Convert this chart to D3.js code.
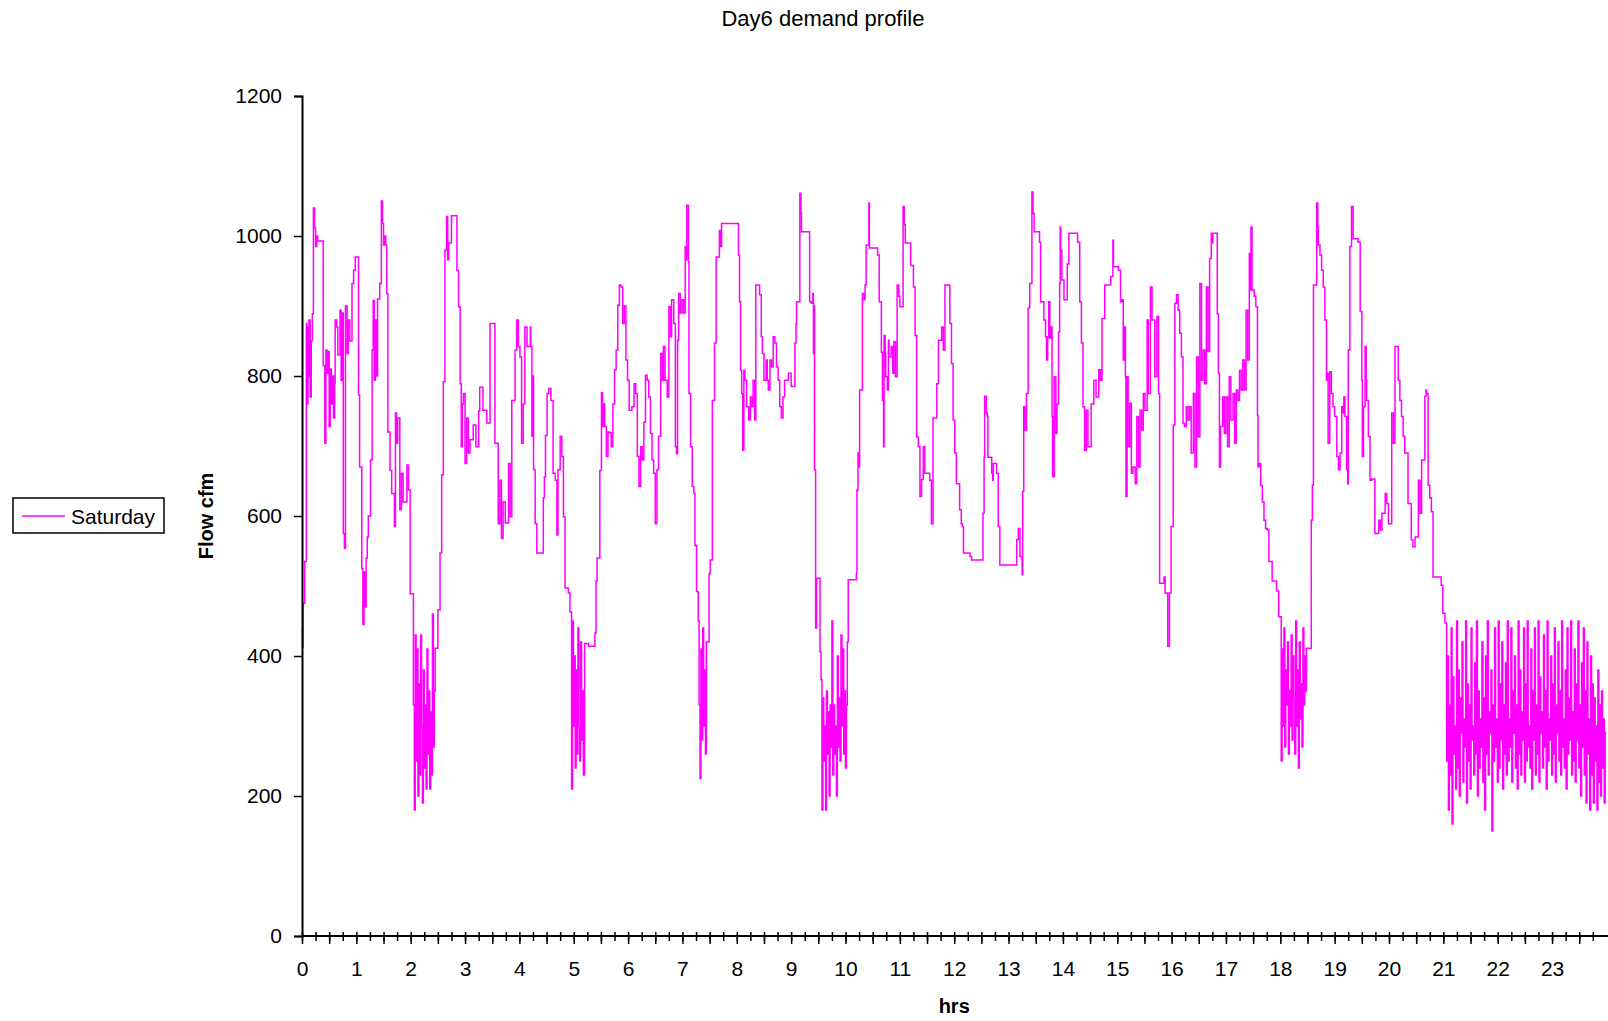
<!DOCTYPE html>
<html>
<head>
<meta charset="utf-8">
<title>Day6 demand profile</title>
<script src="https://cdn.jsdelivr.net/npm/d3@7"></script>
<style>
  body { margin: 0; background: #fff; }
  svg text { font-family: "Liberation Sans", Arial, sans-serif; fill: #000; }
</style>
</head>
<body>
<div id="chart"></div>
<script>
const chartTitle = "Day6 demand profile";
const seriesName = "Saturday";
const yTitle = "Flow cfm";
const xTitle = "hrs";
const flowTicks = [0, 200, 400, 600, 800, 1000, 1200];
const hourLabels = [0, 1, 2, 3, 4, 5, 6, 7, 8, 9, 10, 11, 12, 13, 14, 15, 16, 17, 18, 19, 20, 21, 22, 23];
const dayEnd = 24;

// [hour, flow] step changes
const early = [[0.00,440],[0.01,413],[0.02,475],[0.05,535],[0.08,875],[0.09,840],[0.10,760],[0.11,870],[0.12,800],[0.13,880],[0.15,770],[0.17,850],[0.19,889],[0.21,1040],[0.23,1011],[0.25,985],[0.27,1000],[0.29,993],[0.39,815],[0.42,704],[0.44,837],[0.46,804],[0.48,835],[0.50,728],[0.52,810],[0.54,760],[0.56,800],[0.58,740],[0.60,790],[0.61,880],[0.64,870],[0.66,830],[0.70,894],[0.72,794],[0.74,890],[0.76,575],[0.78,554],[0.80,900],[0.83,832],[0.85,880],[0.88,850],[0.92,932],[0.95,951],[0.98,970],[1.04,773],[1.06,670],[1.10,525],[1.12,445],[1.14,520],[1.16,470],[1.18,540],[1.20,570],[1.22,600],[1.26,680],[1.29,837],[1.31,908],[1.33,794],[1.35,880],[1.37,800],[1.39,910],[1.43,932],[1.46,1050],[1.48,1018],[1.50,987],[1.52,1000],[1.54,987],[1.56,918],[1.58,720],[1.62,665],[1.65,632],[1.70,585],[1.72,747],[1.74,704],[1.76,740],[1.80,609],[1.83,661],[1.86,620],[1.93,673],[1.96,637],[1.99,489]];

const morning = [[2.45,411],[2.50,466],[2.54,547],[2.57,659],[2.60,792],[2.63,980],[2.66,1028],[2.68,966],[2.70,990],[2.75,1029],[2.85,951],[2.88,899],[2.91,789],[2.93,699],[2.95,760],[2.97,775],[3.00,675],[3.03,740],[3.06,690],[3.09,709],[3.15,730],[3.20,699],[3.25,750],[3.27,784],[3.33,751],[3.40,733],[3.46,875],[3.55,704],[3.61,589],[3.64,651],[3.67,568],[3.70,620],[3.74,590],[3.80,675],[3.83,599],[3.86,765],[3.92,837],[3.95,880],[3.98,842],[4.01,827],[4.04,704],[4.07,760],[4.10,870],[4.14,842],[4.20,870],[4.21,842],[4.23,714],[4.25,800],[4.26,666],[4.29,589],[4.32,547],[4.44,626],[4.46,656],[4.48,715],[4.51,775],[4.54,782],[4.58,765],[4.62,661],[4.66,651],[4.69,573],[4.71,666],[4.75,714],[4.78,685],[4.81,599],[4.84,497],[4.90,490],[4.93,463]];

const midMorning = [[5.20,418],[5.27,414],[5.39,433],[5.41,507],[5.43,540],[5.48,665],[5.51,776],[5.53,728],[5.55,760],[5.57,728],[5.60,685],[5.63,720],[5.66,719],[5.69,699],[5.72,760],[5.75,809],[5.78,837],[5.81,901],[5.84,930],[5.87,927],[5.90,875],[5.93,900],[5.96,823],[5.99,794],[6.02,751],[6.07,756],[6.11,789],[6.14,775],[6.17,685],[6.20,642],[6.23,699],[6.26,680],[6.29,734],[6.32,801],[6.35,794],[6.38,770],[6.41,718],[6.44,680],[6.47,661],[6.50,589],[6.53,666],[6.56,714],[6.60,832],[6.63,794],[6.65,842],[6.68,794],[6.72,770],[6.75,899],[6.78,856],[6.80,909],[6.84,875],[6.87,699],[6.89,689],[6.91,851],[6.93,918],[6.96,890],[6.99,909],[7.02,890],[7.05,985],[7.07,966],[7.08,1044],[7.11,963],[7.12,775],[7.15,699],[7.18,642],[7.21,632],[7.23,558],[7.26,492]];

const lateMorning = [[7.46,420],[7.49,518],[7.51,537],[7.55,765],[7.59,847],[7.62,970],[7.68,1008],[7.70,985],[7.72,1018],[8.03,973],[8.05,906],[8.07,808],[8.09,775],[8.11,694],[8.13,808],[8.15,794],[8.18,756],[8.22,737],[8.25,770],[8.28,756],[8.30,794],[8.33,737],[8.35,930],[8.42,916],[8.45,856],[8.47,832],[8.50,794],[8.54,823],[8.56,794],[8.58,780],[8.61,823],[8.64,813],[8.67,856],[8.70,847],[8.73,813],[8.76,794],[8.79,756],[8.82,740],[8.85,770],[8.88,794],[8.92,794],[8.95,804],[9.00,785],[9.07,847],[9.09,875],[9.10,906],[9.16,1061],[9.18,1032],[9.19,1006],[9.34,906],[9.37,904],[9.40,918],[9.41,832],[9.42,900],[9.43,666],[9.45,440],[9.47,511],[9.53,406]];

const midday = [[10.05,509],[10.20,518],[10.21,637],[10.23,690],[10.25,670],[10.26,780],[10.31,918],[10.34,909],[10.36,930],[10.38,987],[10.43,1047],[10.44,983],[10.59,973],[10.62,906],[10.66,834],[10.68,765],[10.70,699],[10.71,858],[10.73,832],[10.74,799],[10.77,780],[10.79,851],[10.80,827],[10.84,842],[10.87,804],[10.89,849],[10.92,799],[10.95,930],[10.98,914],[11.00,899],[11.06,1042],[11.08,1016],[11.10,990],[11.20,958],[11.25,927],[11.28,858],[11.31,713],[11.34,699],[11.37,628],[11.40,652],[11.43,699],[11.46,661],[11.55,651],[11.58,589],[11.61,740],[11.68,789],[11.71,851],[11.77,870],[11.80,837],[11.83,930],[11.92,875],[11.95,818],[11.98,737],[12.01,690],[12.04,646],[12.10,609],[12.13,589],[12.15,585],[12.17,547],[12.29,542],[12.32,537],[12.53,604],[12.55,684],[12.56,771],[12.59,747],[12.61,742],[12.62,684],[12.69,661],[12.71,651],[12.72,675],[12.78,661],[12.81,585],[12.84,530]];

const afternoon = [[13.15,566],[13.18,582],[13.21,542],[13.25,516],[13.26,635],[13.28,756],[13.30,723],[13.33,775],[13.36,897],[13.39,932],[13.43,1063],[13.45,1032],[13.47,1006],[13.57,991],[13.59,906],[13.65,880],[13.68,856],[13.70,823],[13.72,856],[13.74,906],[13.76,854],[13.78,870],[13.80,742],[13.81,656],[13.84,799],[13.87,718],[13.89,760],[13.92,863],[13.94,932],[13.95,1013],[13.96,980],[13.98,937],[14.02,909],[14.08,960],[14.11,1004],[14.27,991],[14.31,906],[14.34,847],[14.37,756],[14.40,694],[14.43,751],[14.46,699],[14.52,760],[14.57,794],[14.61,770],[14.66,809],[14.69,794],[14.72,882],[14.77,930],[14.88,942],[14.92,994],[14.93,956],[15.02,951],[15.06,906],[15.09,909],[15.11,823],[15.13,870],[15.15,799],[15.16,628],[15.18,799],[15.20,699],[15.23,761],[15.26,661],[15.29,670],[15.33,646],[15.36,742],[15.39,670],[15.42,751],[15.45,723],[15.48,775],[15.51,751],[15.55,880],[15.57,775],[15.61,927],[15.64,880],[15.67,880],[15.69,799],[15.73,885],[15.76,775],[15.78,504],[15.86,513],[15.88,490],[15.93,414],[15.96,490],[15.99,585],[16.03,730],[16.06,904],[16.09,916],[16.12,894],[16.15,861],[16.18,827],[16.21,732],[16.24,728],[16.27,756],[16.30,737],[16.33,756],[16.36,690],[16.40,775],[16.43,670],[16.46,827],[16.49,713],[16.52,932],[16.55,794],[16.58,837],[16.61,789],[16.64,927],[16.67,835],[16.70,968],[16.73,1004],[16.74,990],[16.76,1004],[16.84,889],[16.86,804],[16.88,670],[16.90,728],[16.94,770],[16.97,718],[17.00,770],[17.03,699],[17.06,799],[17.09,737],[17.13,775],[17.16,704],[17.19,780],[17.22,765],[17.25,808],[17.28,780],[17.31,823],[17.34,780],[17.37,894],[17.40,823],[17.43,975],[17.45,923],[17.46,1013],[17.48,923],[17.52,914],[17.55,899],[17.58,744],[17.59,670],[17.61,675],[17.64,644],[17.67,620],[17.70,594],[17.73,582],[17.76,580],[17.79,535],[17.85,507],[17.93,493],[17.97,456]];

const evening = [[18.48,411],[18.57,594],[18.59,644],[18.61,930],[18.67,1047],[18.69,1013],[18.70,987],[18.73,973],[18.76,951],[18.79,927],[18.82,880],[18.85,794],[18.87,804],[18.88,704],[18.91,806],[18.94,775],[18.97,756],[19.00,742],[19.04,685],[19.07,666],[19.10,690],[19.13,756],[19.15,747],[19.17,770],[19.19,742],[19.22,666],[19.24,646],[19.25,837],[19.28,985],[19.31,1042],[19.34,996],[19.43,991],[19.47,892],[19.50,794],[19.51,685],[19.53,756],[19.56,842],[19.58,794],[19.59,765],[19.62,714],[19.65,651],[19.68,653],[19.74,575],[19.81,594],[19.84,580],[19.87,604],[19.93,632],[19.96,618],[19.99,589],[20.05,747],[20.08,704],[20.11,842],[20.17,794],[20.20,765],[20.23,742],[20.26,714],[20.29,690],[20.35,618],[20.41,566],[20.44,556],[20.48,570],[20.54,651],[20.57,604],[20.60,680],[20.66,771],[20.68,780],[20.69,775],[20.72,644],[20.75,626],[20.78,606],[20.81,513],[20.96,501],[20.99,461],[21.03,447]];

// fast-cycling stretches, one flow value per minute from the start hour
const burstStarts = [2.05, 4.96, 7.29, 9.55, 18.0, 21.06];
const burst2h = [330,180,430,250,410,200,360,230,430,300,190,380,240,330,210,410,260,350,210,320,230,460,270,350];
const burst5h = [210,450,300,400,240,380,260,440,300,250,420,280,350,230];
const burst7h = [450,330,225,410,280,440,300,380,260,420];
const burst10h = [366,180,340,250,300,180,350,260,320,200,330,270,450,230,330,260,300,200,400,270,340,250,430,300,410,260,350,240,330,420];
const burst18h = [456,250,410,300,440,270,380,330,420,260,350,300,430,280,400,340,260,450,300,380,240,420,310,360,270,440,330,400,350];
const night = [
  250,400,180,330,230,440,160,370,260,300,210,450,240,380,200,340,290,420,220,310,
  270,450,190,360,250,330,210,440,280,300,230,390,260,450,200,350,240,310,270,420,
  220,340,180,400,260,450,230,320,290,380,150,330,250,440,270,310,220,450,240,360,
  280,420,210,330,260,390,230,450,250,310,270,440,220,350,290,400,240,330,210,450,
  260,380,230,320,280,440,220,360,250,450,270,300,240,410,210,350,280,440,230,330,
  260,450,220,370,290,320,240,430,270,350,210,450,250,310,280,400,230,360,260,440,
  220,330,290,420,250,350,230,450,270,310,240,380,210,440,260,340,280,450,230,320,
  250,410,220,360,280,450,240,330,200,390,270,440,230,350,190,420,260,310,180,400,
  230,360,190,340,250,300,180,380,220,330,200,350,240,310,190,290];

const width = 1608;
const height = 1021;
const plot = {left: 302, right: 1606.4, top: 96, bottom: 936};
const lineColor = "#ff00ff";

function minutes(start, flows) {
  return flows.map((f, i) => [start + i / 60, f]);
}

const series = [].concat(
  early, minutes(burstStarts[0], burst2h),
  morning, minutes(burstStarts[1], burst5h),
  midMorning, minutes(burstStarts[2], burst7h),
  lateMorning, minutes(burstStarts[3], burst10h),
  midday, afternoon, minutes(burstStarts[4], burst18h),
  evening, minutes(burstStarts[5], night)
);
series.push([dayEnd, night[night.length - 1]]);

const svg = d3.select("#chart")
  .append("svg")
  .attr("width", width)
  .attr("height", height);

const x = d3.scaleLinear().domain([0, dayEnd]).range([plot.left, plot.right]);
const y = d3.scaleLinear().domain([0, 1200]).range([plot.bottom, plot.top]);

// the flow line
svg.append("path")
  .datum(series)
  .attr("fill", "none")
  .attr("stroke", lineColor)
  .attr("stroke-width", 1.5)
  .attr("d", d3.line()
    .x(d => x(d[0]))
    .y(d => y(d[1]))
    .curve(d3.curveStepAfter));

// y axis
const yAxis = svg.append("g")
  .attr("transform", "translate(" + plot.left + ",0)")
  .call(d3.axisLeft(y).tickValues(flowTicks).tickSize(8).tickPadding(12).tickFormat(d3.format("d")));
yAxis.select(".domain").attr("stroke", "#000").attr("stroke-width", 2);
yAxis.selectAll(".tick line").attr("stroke", "#000").attr("stroke-width", 1.5);
yAxis.selectAll("text").style("font-size", "21px");

// x axis: quarter-hour ticks crossing the line, longer every half hour
const quarters = d3.range(0, dayEnd, 0.25);
const halves = d3.range(0, dayEnd, 0.5);
const xBase = svg.append("g").attr("transform", "translate(0," + plot.bottom + ")");
xBase.append("g").call(d3.axisBottom(x).tickValues(quarters).tickSize(5).tickFormat(""));
xBase.append("g").call(d3.axisBottom(x).tickValues(halves).tickSize(8).tickFormat(""));
xBase.append("g").call(d3.axisTop(x).tickValues(quarters).tickSize(4).tickFormat(""));
xBase.append("g")
  .call(d3.axisBottom(x).tickValues(hourLabels).tickSize(0).tickPadding(25).tickFormat(d3.format("d")))
  .selectAll("text").style("font-size", "21px");
xBase.selectAll(".domain").remove();
xBase.selectAll(".tick line").attr("stroke", "#000").attr("stroke-width", 1.5);
xBase.append("line")
  .attr("x1", plot.left).attr("x2", width)
  .attr("stroke", "#000").attr("stroke-width", 2);

// titles
svg.append("text")
  .attr("x", 823).attr("y", 26)
  .attr("text-anchor", "middle")
  .style("font-size", "22px")
  .text(chartTitle);

svg.append("text")
  .attr("transform", "translate(213," + (plot.top + plot.bottom) / 2 + ") rotate(-90)")
  .attr("text-anchor", "middle")
  .style("font-size", "20px")
  .style("font-weight", "bold")
  .text(yTitle);

svg.append("text")
  .attr("x", (plot.left + plot.right) / 2).attr("y", 1013)
  .attr("text-anchor", "middle")
  .style("font-size", "20px")
  .style("font-weight", "bold")
  .text(xTitle);

// legend
const legend = svg.append("g");
legend.append("rect")
  .attr("x", 13).attr("y", 498)
  .attr("width", 151).attr("height", 35)
  .attr("fill", "#fff")
  .attr("stroke", "#000")
  .attr("stroke-width", 1.5);
legend.append("line")
  .attr("x1", 22).attr("x2", 65)
  .attr("y1", 516).attr("y2", 516)
  .attr("stroke", lineColor)
  .attr("stroke-width", 1.5);
legend.append("text")
  .attr("x", 71).attr("y", 524)
  .style("font-size", "21px")
  .text(seriesName);
</script>
</body>
</html>
